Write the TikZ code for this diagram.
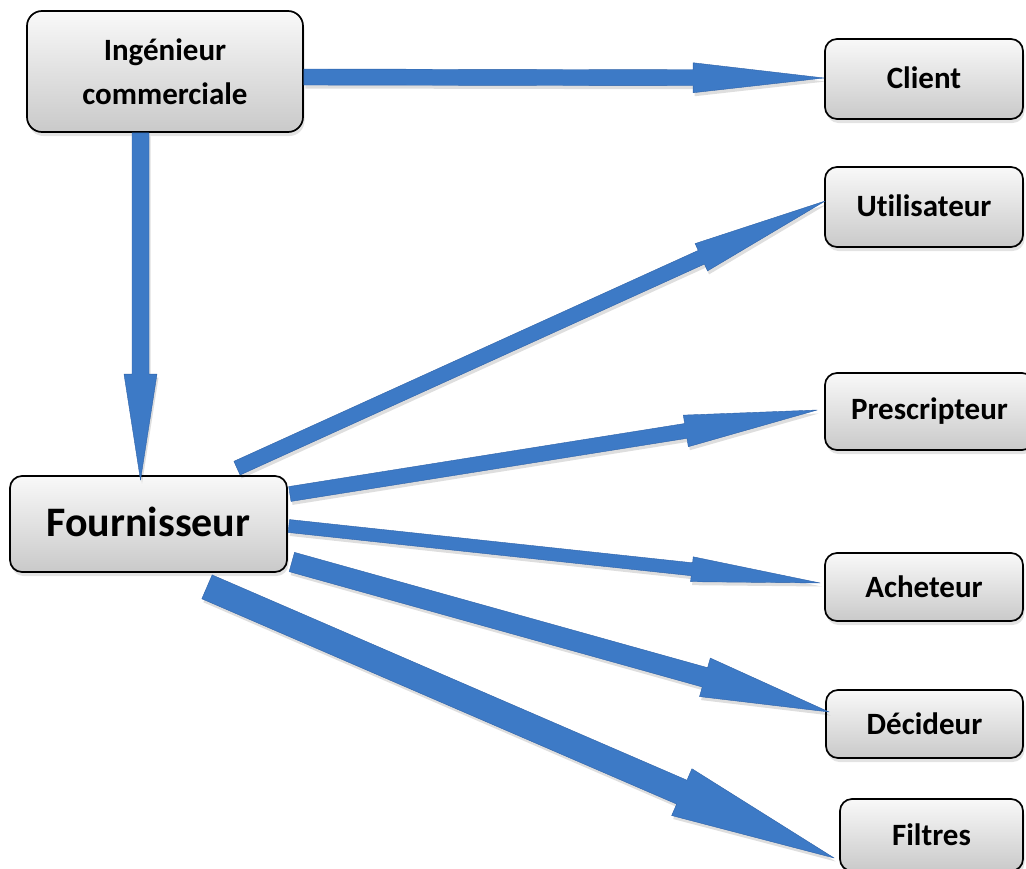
\documentclass[tikz,border=0pt]{standalone}
\usepackage{fontspec}
\setmainfont{Carlito}[Ligatures=NoCommon]
\usetikzlibrary{calc,shadows}
\definecolor{arrowblue}{RGB}{61,122,198}
\definecolor{arrowedge}{RGB}{46,98,168}

% Block arrow from a tail point to a tip point:
% #1 name, #2 tail, #3 tip, #4 half shaft width, #5 half head width, #6 head length
\newcommand\flechebloc[6]{%
  \coordinate (#1-b) at ($(#3)!#6pt!(#2)$);
  \coordinate (#1-1) at ($(#2)!#4pt!90:(#3)$);
  \coordinate (#1-2) at ($(#1-b)!#4pt!90:(#3)$);
  \coordinate (#1-3) at ($(#1-b)!#5pt!90:(#3)$);
  \coordinate (#1-4) at ($(#1-b)!#5pt!-90:(#3)$);
  \coordinate (#1-5) at ($(#1-b)!#4pt!-90:(#3)$);
  \coordinate (#1-6) at ($(#2)!#4pt!-90:(#3)$);
  \fill[arrowshadow] (#1-1) -- (#1-2) -- (#1-3) -- (#3) -- (#1-4) -- (#1-5) -- (#1-6) -- cycle;
  \filldraw[arrowbody] (#1-1) -- (#1-2) -- (#1-3) -- (#3) -- (#1-4) -- (#1-5) -- (#1-6) -- cycle;
}

\begin{document}
\begin{tikzpicture}[x=1pt,y=-1pt,
  box/.style={draw=black, line width=1.7pt, rounded corners=12pt,
    top color=gray!5, bottom color=gray!42,
    drop shadow={shadow xshift=1.5pt, shadow yshift=-4pt, opacity=0.22},
    align=center, inner sep=0pt,
    font=\bfseries\fontsize{31}{44}\selectfont},
  arrowbody/.style={fill=arrowblue, draw=arrowedge, line width=0.4pt, line join=round},
  arrowshadow/.style={fill=black, opacity=0.13, transform canvas={xshift=1.5pt, yshift=-3.5pt}}]

\useasboundingbox (0,0) rectangle (1026,868);
\clip (0,0) rectangle (1026,868);

% boxes
\node[box, rounded corners=15pt, minimum width=276pt, minimum height=121pt] (ing) at (165,71.5) {Ingénieur\\commerciale};
\node[box, minimum width=277pt, minimum height=96pt, font=\bfseries\fontsize{42}{50}\selectfont] (fourn) at (148.5,524) {\raisebox{4pt}{Fournisseur}};
\node[box, minimum width=198pt, minimum height=80pt] (client) at (924,79) {\raisebox{2pt}{Client}};
\node[box, minimum width=198pt, minimum height=80pt] (util) at (924,207) {\raisebox{3pt}{Utilisateur}};
\node[box, minimum width=209pt, minimum height=77pt] (presc) at (929.5,411.5) {Prescripteur};
\node[box, minimum width=198pt, minimum height=68pt] (ach) at (924,587) {Acheteur};
\node[box, minimum width=197pt, minimum height=68pt] (dec) at (924.5,724) {Décideur};
\node[box, minimum width=183pt, minimum height=72pt] (filt) at (931.5,835) {Filtres};

% arrow end points
\coordinate (t1) at ($(ing.east)+(0,5.5)$);
\coordinate (h1) at ($(client.west)+(0,-1)$);
\coordinate (t2) at ($(ing.south)+(-24.5,0)$);
\coordinate (h2) at ($(fourn.north)+(-8,5)$);
\coordinate (t3) at ($(fourn.north)+(88.5,-7)$);
\coordinate (h3) at ($(util.west)+(1,-6)$);
\coordinate (t4) at ($(fourn.east)+(2,-30)$);
\coordinate (h4) at ($(presc.west)+(-7,-1.5)$);
\coordinate (t5) at ($(fourn.east)+(1,2)$);
\coordinate (h5) at ($(ach.west)+(-4,-4)$);
\coordinate (t6) at ($(fourn.east)+(4,38)$);
\coordinate (h6) at ($(dec.west)+(4,-12)$);
\coordinate (t7) at ($(fourn.south)+(58.5,14)$);
\coordinate (h7) at ($(filt.west)+(-5,23)$);

% arrows
\flechebloc{a1}{t1}{h1}{8}{15}{131}
\flechebloc{a2}{t2}{h2}{8.5}{16.5}{106}
\flechebloc{a3}{t3}{h3}{7.5}{15}{136}
\flechebloc{a4}{t4}{h4}{7.5}{16}{133}
\flechebloc{a5}{t5}{h5}{6.5}{12.5}{129}
\flechebloc{a6}{t6}{h6}{10}{20}{129}
\flechebloc{a7}{t7}{h7}{13}{25.5}{166}
\end{tikzpicture}
\end{document}
